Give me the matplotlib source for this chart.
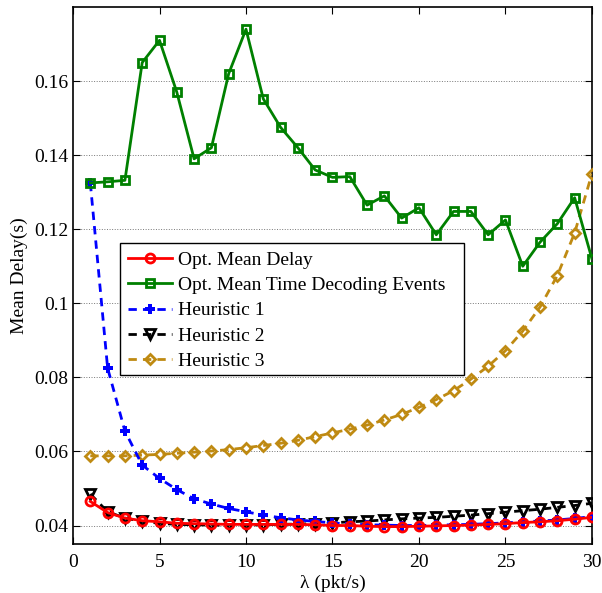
import matplotlib.pyplot as plt
from matplotlib.patches import Rectangle

plt.rcParams['font.family'] = ['Liberation Serif', 'DejaVu Serif']

lam = list(range(1, 31))
opt_delay = [0.0465, 0.0435, 0.0420, 0.0413, 0.0410, 0.0406, 0.0405, 0.0404, 0.0403, 0.0403,
             0.0403, 0.0403, 0.0403, 0.0402, 0.0400, 0.0400, 0.0398, 0.0397, 0.0397, 0.0398,
             0.0399, 0.0400, 0.0401, 0.0403, 0.0405, 0.0408, 0.0410, 0.0413, 0.0417, 0.0422]
opt_decoding = [0.1325, 0.1328, 0.1332, 0.1650, 0.1710, 0.1570, 0.1390, 0.1420, 0.1620, 0.1740,
                0.1552, 0.1475, 0.1420, 0.1360, 0.1340, 0.1342, 0.1265, 0.1290, 0.1230, 0.1258,
                0.1185, 0.1248, 0.1248, 0.1185, 0.1225, 0.1100, 0.1165, 0.1215, 0.1285, 0.1120]
heur1 = [0.1325, 0.0825, 0.0655, 0.0563, 0.0527, 0.0497, 0.0472, 0.0458, 0.0446, 0.0437,
         0.0428, 0.0421, 0.0415, 0.0411, 0.0407, 0.0404, 0.0402, 0.0401, 0.0400, 0.0400,
         0.0401, 0.0402, 0.0403, 0.0405, 0.0407, 0.0410, 0.0412, 0.0415, 0.0419, 0.0424]
heur2 = [0.0485, 0.0437, 0.0420, 0.0411, 0.0406, 0.0403, 0.0402, 0.0401, 0.0401, 0.0401,
         0.0402, 0.0403, 0.0404, 0.0405, 0.0407, 0.0410, 0.0412, 0.0415, 0.0418, 0.0420,
         0.0422, 0.0425, 0.0428, 0.0432, 0.0436, 0.0440, 0.0444, 0.0449, 0.0454, 0.0460]
heur3 = [0.0588, 0.0588, 0.0588, 0.0590, 0.0592, 0.0595, 0.0598, 0.0601, 0.0605, 0.0610,
         0.0616, 0.0622, 0.0630, 0.0640, 0.0650, 0.0660, 0.0671, 0.0685, 0.0700, 0.0719,
         0.0740, 0.0764, 0.0795, 0.0830, 0.0872, 0.0925, 0.0990, 0.1075, 0.1190, 0.1350]

GOLD = "#bf8a12"
GREEN = "#008000"
DASH = (0, (3, 2.2))

fig = plt.figure(figsize=(6.02, 5.93), dpi=100)
ax = fig.add_axes([0.1213, 0.0826, 0.862, 0.9056])

ax.plot(lam, opt_delay, color="red", lw=2, marker="o", ms=6.5, mfc="none", mew=2,
        label="Opt. Mean Delay", zorder=6)
ax.plot(lam, opt_decoding, color=GREEN, lw=2, marker="s", ms=5.5, mfc="none", mew=2,
        label="Opt. Mean Time Decoding Events", zorder=5)
ax.plot(lam, heur1, color="blue", lw=2, ls=DASH, marker="P", ms=7, mfc="blue", mec="blue", mew=0,
        label="Heuristic 1", zorder=4)
ax.plot(lam, heur2, color="black", lw=2, ls=DASH, marker="v", ms=7, mfc="none", mew=2,
        label="Heuristic 2", zorder=3)
ax.plot(lam, heur3, color=GOLD, lw=2, ls=DASH, marker="D", ms=5.5, mfc="none", mew=2,
        label="Heuristic 3", zorder=3)

ax.set_xlim(0, 30)
ax.set_ylim(0.035, 0.18)
ax.set_xticks([0, 5, 10, 15, 20, 25, 30])
ax.set_yticks([0.04, 0.06, 0.08, 0.1, 0.12, 0.14, 0.16])
ax.set_yticklabels(["0.04", "0.06", "0.08", "0.1", "0.12", "0.14", "0.16"])
ax.yaxis.grid(True, ls=":", color="#777777", lw=0.7)
ax.tick_params(direction="in", top=True, right=True, labelsize=14, length=5)
ax.tick_params(axis="x", pad=7)
for s in ax.spines.values():
    s.set_linewidth(1.2)

ax.set_xlabel("λ (pkt/s)", fontsize=14, labelpad=3)
ax.set_ylabel("Mean Delay(s)", fontsize=14)

# legend frame drawn by hand so it can be wider than the entries
ax.add_patch(Rectangle((0.0906, 0.3147), 0.663, 0.2458, transform=ax.transAxes,
                       facecolor="white", edgecolor="black", lw=1.0, zorder=9))
leg = ax.legend(loc="upper left", bbox_to_anchor=(0.1052, 0.5456), fontsize=14,
                frameon=False, handlelength=2.3, handletextpad=0.3, borderpad=0,
                borderaxespad=0, labelspacing=0.40)
leg.set_zorder(10)

fig.savefig("out.png", dpi=100)
